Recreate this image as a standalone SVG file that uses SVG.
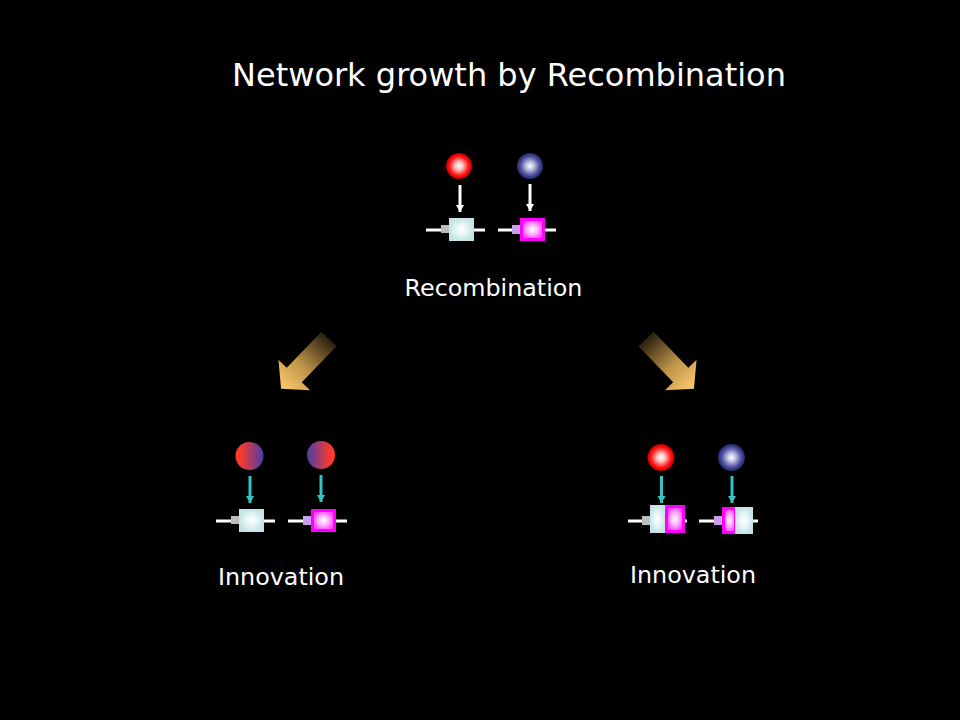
<svg xmlns="http://www.w3.org/2000/svg" width="960" height="720" viewBox="0 0 960 720">
<style>
text{font-family:"DejaVu Sans","Liberation Sans",sans-serif;fill:#ffffff;text-anchor:middle}
.wire{stroke:#ffffff;stroke-width:3}
.cyanbox{fill:url(#gCyan)}
.magbox{fill:url(#gMag);stroke:#ff00ff;stroke-width:3}
.gray{fill:#bdbdbd}
.lav{fill:#c9a0f0}
.warr{stroke:#ffffff;stroke-width:3;marker-end:url(#mWhite)}
.tarr{stroke:#33c4c4;stroke-width:3;marker-end:url(#mTeal)}
</style>
<defs>
<radialGradient id="gRed" cx="0.5" cy="0.5" r="0.5">
<stop offset="0" stop-color="#ffffff"/>
<stop offset="0.3" stop-color="#ffc0c0"/>
<stop offset="0.72" stop-color="#ff1a1a"/>
<stop offset="0.88" stop-color="#f00000"/>
<stop offset="1" stop-color="#a80000"/>
</radialGradient>
<radialGradient id="gBlue" cx="0.5" cy="0.5" r="0.5">
<stop offset="0" stop-color="#ffffff"/>
<stop offset="0.3" stop-color="#c0c0e4"/>
<stop offset="0.72" stop-color="#50509e"/>
<stop offset="1" stop-color="#262672"/>
</radialGradient>
<linearGradient id="gRB" x1="0" y1="0" x2="1" y2="0">
<stop offset="0.15" stop-color="#ff3a2a"/>
<stop offset="1" stop-color="#4a3ca8"/>
</linearGradient>
<linearGradient id="gBR" x1="0" y1="0" x2="1" y2="0">
<stop offset="0" stop-color="#4a3ca8"/>
<stop offset="0.85" stop-color="#ff3a2a"/>
</linearGradient>
<radialGradient id="gCyan" cx="0.5" cy="0.5" r="0.5">
<stop offset="0" stop-color="#ffffff"/>
<stop offset="0.5" stop-color="#e4f4f4"/>
<stop offset="1" stop-color="#c4e4e4"/>
</radialGradient>
<radialGradient id="gMag" cx="0.5" cy="0.5" r="0.5">
<stop offset="0" stop-color="#ffffff"/>
<stop offset="0.5" stop-color="#ffb0ff"/>
<stop offset="1" stop-color="#ff40ff"/>
</radialGradient>
<linearGradient id="gGold" gradientUnits="userSpaceOnUse" x1="0" y1="0" x2="69" y2="0">
<stop offset="0" stop-color="#2a200c"/>
<stop offset="0.55" stop-color="#c0944a"/>
<stop offset="1" stop-color="#fbcb6a"/>
</linearGradient>
<marker id="mWhite" markerUnits="userSpaceOnUse" markerWidth="10" markerHeight="10" refX="7" refY="4.5" orient="auto">
<path d="M0,0.5 L7,4.5 L0,8.5 Z" fill="#ffffff"/>
</marker>
<marker id="mTeal" markerUnits="userSpaceOnUse" markerWidth="10" markerHeight="10" refX="7" refY="4.5" orient="auto">
<path d="M0,0.5 L7,4.5 L0,8.5 Z" fill="#33c4c4"/>
</marker>
</defs>
<rect width="960" height="720" fill="#000000"/>

<g id="title"><text x="509" y="86" font-size="32">Network growth by Recombination</text></g>

<g id="recombination">
<circle cx="459" cy="166" r="13" fill="url(#gRed)"/>
<circle cx="530" cy="166" r="13" fill="url(#gBlue)"/>
<line class="wire" x1="426" y1="230" x2="485" y2="230"/>
<rect class="gray" x="441" y="225" width="8" height="8"/>
<rect class="cyanbox" x="449" y="218" width="25" height="23"/>
<line class="wire" x1="498" y1="230" x2="556" y2="230"/>
<rect class="lav" x="512" y="225" width="8" height="9"/>
<rect class="magbox" x="521.5" y="219.5" width="22" height="20"/>
<text x="493.5" y="296" font-size="23.8">Recombination</text>
</g>

<g id="innovation-left">
<circle cx="249.5" cy="456" r="14" fill="url(#gRB)"/>
<circle cx="321" cy="455" r="14" fill="url(#gBR)"/>
<line class="wire" x1="216" y1="521" x2="275" y2="521"/>
<rect class="gray" x="231" y="516" width="8" height="8"/>
<rect class="cyanbox" x="239" y="509" width="25" height="23"/>
<line class="wire" x1="288" y1="521" x2="347" y2="521"/>
<rect class="lav" x="303" y="516" width="8" height="9"/>
<rect class="magbox" x="312.5" y="510.5" width="22" height="20"/>
<text x="281" y="585" font-size="23.8">Innovation</text>
</g>

<g id="innovation-right">
<circle cx="661" cy="457.5" r="13.5" fill="url(#gRed)"/>
<circle cx="731.5" cy="457.5" r="13.5" fill="url(#gBlue)"/>
<line class="wire" x1="628" y1="521" x2="687" y2="521"/>
<rect class="gray" x="642" y="516" width="8" height="9"/>
<rect class="cyanbox" x="650" y="505" width="15" height="28"/>
<rect class="magbox" x="666.5" y="506.5" width="17" height="25"/>
<line class="wire" x1="699" y1="521" x2="758" y2="521"/>
<rect class="lav" x="714" y="516" width="8" height="9"/>
<rect class="magbox" x="723.5" y="508.5" width="12" height="24"/>
<rect class="cyanbox" x="735" y="507" width="18" height="27"/>
<text x="693" y="583" font-size="23.8">Innovation</text>
</g>

<g id="connectors">
<line class="warr" x1="460" y1="185" x2="460" y2="212"/>
<line class="warr" x1="530" y1="184" x2="530" y2="211"/>
<path transform="translate(329,339) rotate(134)" d="M0,-10.5 L50,-10.5 L50,-22 L69,0 L50,22 L50,10.5 L0,10.5 Z" fill="url(#gGold)"/>
<path transform="translate(646,339) rotate(46)" d="M0,-10.5 L50,-10.5 L50,-22 L69,0 L50,22 L50,10.5 L0,10.5 Z" fill="url(#gGold)"/>
<line class="tarr" x1="250" y1="476" x2="250" y2="503"/>
<line class="tarr" x1="321" y1="475" x2="321" y2="502"/>
<line class="tarr" x1="661.5" y1="476" x2="661.5" y2="503"/>
<line class="tarr" x1="732" y1="476" x2="732" y2="503"/>
</g>
</svg>
